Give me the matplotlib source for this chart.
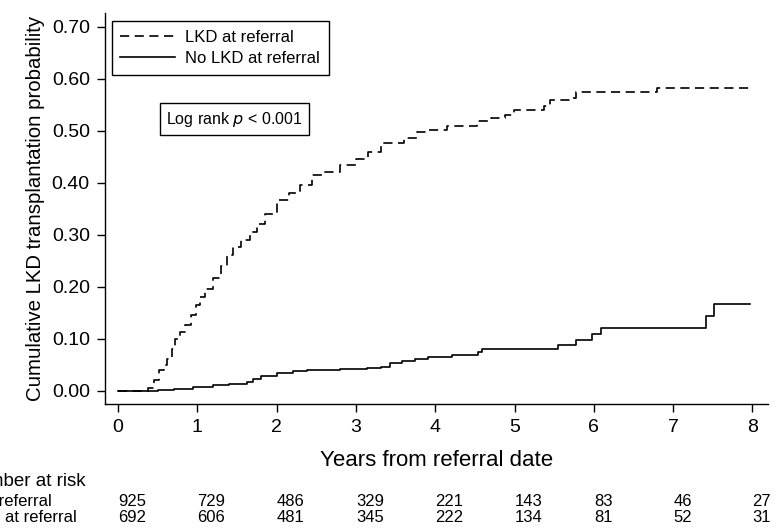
import matplotlib
matplotlib.use("Agg")
import matplotlib.pyplot as plt
import matplotlib.transforms as mtransforms

# Данные кривых (ступенчатые функции, оценены по рисунку)
lkd_years = [0.0, 0.38, 0.45, 0.52, 0.58, 0.62, 0.68, 0.72, 0.78, 0.85, 0.92, 0.98, 1.03,
             1.1, 1.2, 1.3, 1.38, 1.45, 1.55, 1.66, 1.75, 1.85, 2.0, 2.15, 2.3, 2.45,
             2.6, 2.8, 3.0, 3.15, 3.31, 3.6, 3.77, 3.9, 4.15, 4.53, 4.7, 4.88, 4.99,
             5.37, 5.45, 5.7, 5.77, 6.8, 7.97]
lkd_prob = [0.0, 0.005, 0.02, 0.04, 0.05, 0.06, 0.08, 0.1, 0.113, 0.126, 0.145, 0.165, 0.18,
            0.195, 0.216, 0.24, 0.26, 0.277, 0.29, 0.305, 0.32, 0.34, 0.367, 0.38, 0.395, 0.415,
            0.42, 0.435, 0.445, 0.46, 0.476, 0.486, 0.497, 0.501, 0.509, 0.519, 0.525, 0.53,
            0.54, 0.547, 0.56, 0.564, 0.575, 0.582, 0.582]

no_lkd_years = [0.0, 0.5, 0.7, 0.95, 1.2, 1.4, 1.63, 1.7, 1.8, 2.0, 2.2, 2.38, 2.8, 3.14,
                3.31, 3.43, 3.58, 3.75, 3.91, 4.21, 4.54, 4.59, 5.55, 5.77, 5.98, 6.09,
                7.41, 7.51, 7.97]
no_lkd_prob = [0.0, 0.001, 0.003, 0.006, 0.01, 0.013, 0.017, 0.022, 0.028, 0.034, 0.037,
               0.040, 0.042, 0.043, 0.046, 0.053, 0.057, 0.061, 0.065, 0.069, 0.075, 0.08,
               0.088, 0.097, 0.108, 0.12, 0.143, 0.167, 0.167]

risk_times = [0, 1, 2, 3, 4, 5, 6, 7, 8]
risk_lkd = [925, 729, 486, 329, 221, 143, 83, 46, 27]
risk_no_lkd = [692, 606, 481, 345, 222, 134, 81, 52, 31]
group_labels = ["LKD at referral", "No LKD at referral"]

plt.rcParams["font.family"] = ["Liberation Sans", "DejaVu Sans"]

fig = plt.figure(figsize=(7.84, 5.30), dpi=100)
ax = fig.add_axes([0.134, 0.238, 0.846, 0.737])

ax.step(lkd_years, lkd_prob, where="post", color="black", lw=1.2,
        dashes=(5.5, 3.3), label=group_labels[0])
ax.step(no_lkd_years, no_lkd_prob, where="post", color="black", lw=1.2,
        label=group_labels[1])

ax.set_xlim(-0.164, 8.2)
ax.set_ylim(-0.0256, 0.7263)
ax.set_xticks(risk_times)
ax.set_yticks([0, 0.1, 0.2, 0.3, 0.4, 0.5, 0.6, 0.7])
ax.set_yticklabels([f"{v:.2f}" for v in ax.get_yticks()], fontsize=14)
ax.set_xticklabels([str(t) for t in risk_times], fontsize=14)
ax.tick_params(length=6, width=1, pad=5)
for s in ["top", "right"]:
    ax.spines[s].set_visible(False)
for s in ["left", "bottom"]:
    ax.spines[s].set_linewidth(1)

ax.set_ylabel("Cumulative LKD transplantation probability", fontsize=14.7, labelpad=5)
ax.set_xlabel("Years from referral date", fontsize=16, labelpad=10)

leg = ax.legend(loc="upper left", bbox_to_anchor=(0.0106, 0.9795), fontsize=12,
                frameon=True, fancybox=False, edgecolor="black", framealpha=1,
                handlelength=3.3, handletextpad=0.6, borderpad=0.5, labelspacing=0.4,
                borderaxespad=0)
leg.get_frame().set_linewidth(1)

ax.text(0.092, 0.729, "Log rank $\\it{p}$ < 0.001", transform=ax.transAxes, fontsize=11.5,
        va="center", ha="left",
        bbox=dict(boxstyle="square,pad=0.4", fc="white", ec="black", lw=1))

# Таблица числа пациентов под риском
trans = mtransforms.blended_transform_factory(ax.transData, fig.transFigure)
for t, a, b in zip(risk_times, risk_lkd, risk_no_lkd):
    ax.text(t, 1 - 502 / 530, str(a), transform=trans, ha="left", va="center",
            fontsize=12, clip_on=False)
    ax.text(t, 1 - 517 / 530, str(b), transform=trans, ha="left", va="center",
            fontsize=12, clip_on=False)

fig.text(86 / 784, 1 - 482 / 530, "Number at risk", ha="right", va="center", fontsize=13.5)
fig.text(52 / 784, 1 - 502 / 530, group_labels[0], ha="right", va="center", fontsize=12)
fig.text(77 / 784, 1 - 517 / 530, group_labels[1], ha="right", va="center", fontsize=12)

fig.savefig("out.png", dpi=100)
